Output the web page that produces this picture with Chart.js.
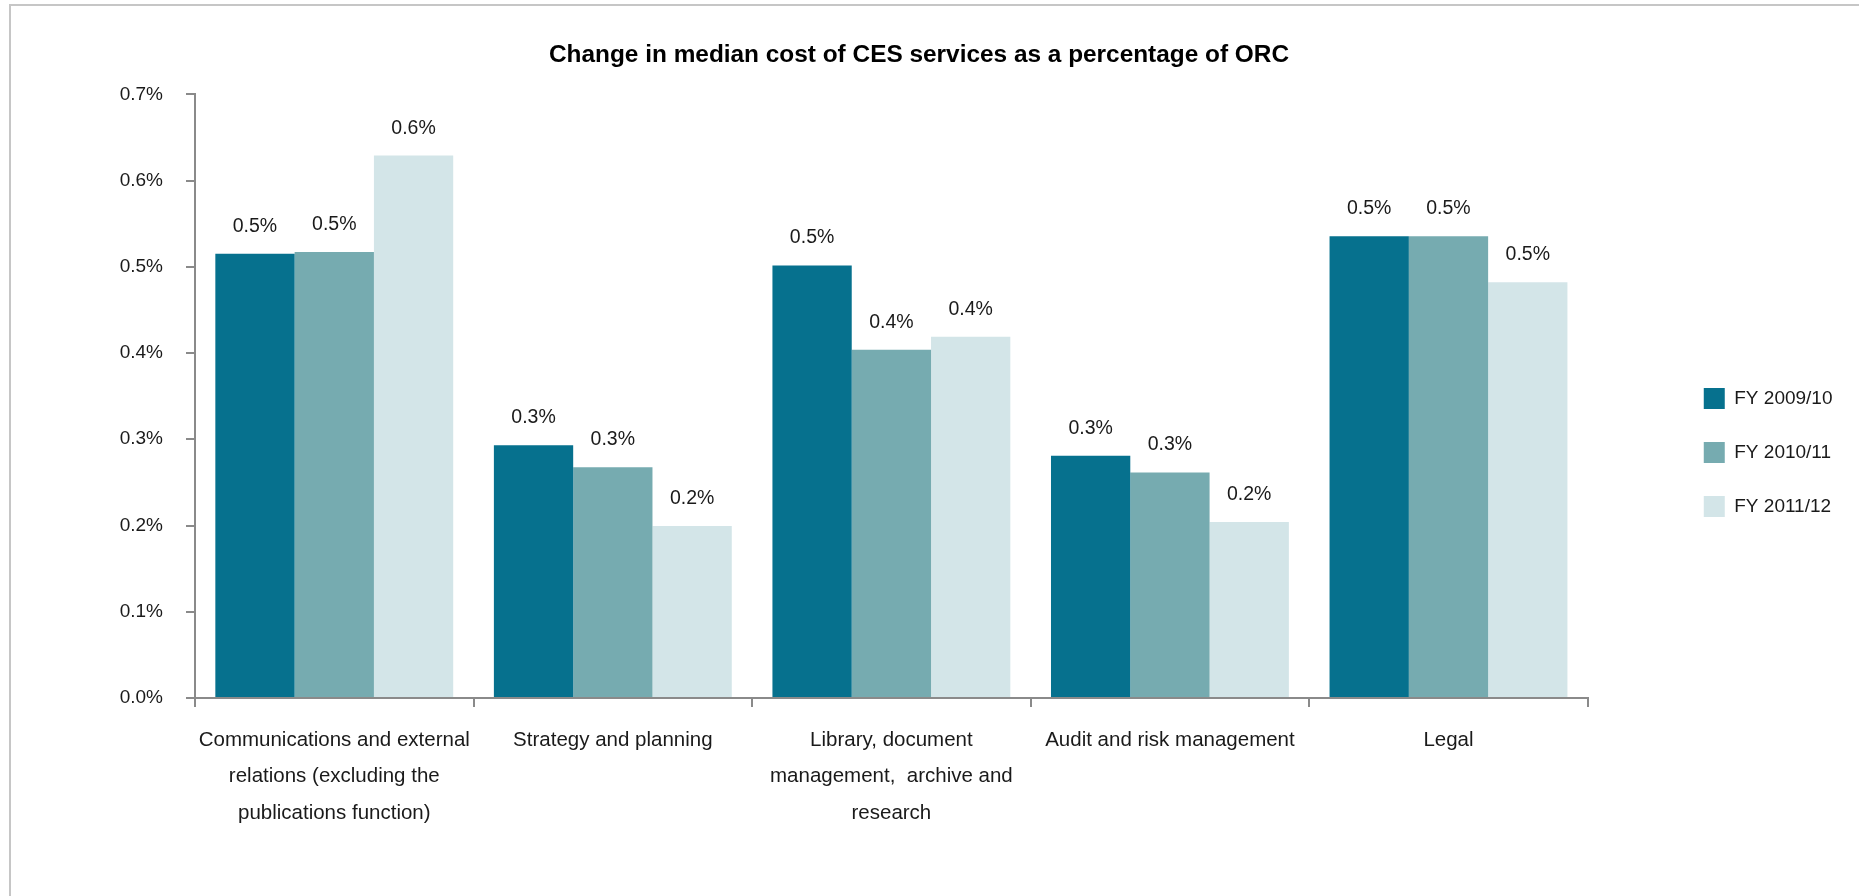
<!DOCTYPE html>
<html>
<head>
<meta charset="utf-8">
<title>Change in median cost of CES services</title>
<script src="https://cdn.jsdelivr.net/npm/chart.js@4.4.1/dist/chart.umd.min.js"></script>
<style>
    html, body { margin: 0; padding: 0; background: #fff; overflow: hidden; }
    #frame {
        position: absolute; left: 9px; top: 4px; width: 2000px; height: 1000px;
        border-left: 2px solid #c6c6c6; border-top: 2px solid #c6c6c6;
    }
    #graficoCostes { position: absolute; left: 0; top: 0; }
</style>
</head>
<body>
<div id="frame"></div>
<canvas id="graficoCostes" width="1859" height="896"></canvas>
<script>
// categorias (etiquetas en varias lineas) y series en %
const categorias = [
    ['Communications and external', 'relations (excluding the', 'publications function)'],
    ['Strategy and planning'],
    ['Library, document', 'management,  archive and', 'research'],
    ['Audit and risk management'],
    ['Legal']
];
const series = ['FY 2009/10', 'FY 2010/11', 'FY 2011/12'];
const fy0910 = [0.515, 0.293, 0.5015, 0.281, 0.5355];
const fy1011 = [0.517, 0.2676, 0.4037, 0.2616, 0.5355];
const fy1112 = [0.629, 0.1995, 0.419, 0.2042, 0.482];
const yTicks = [0, 0.1, 0.2, 0.3, 0.4, 0.5, 0.6, 0.7];

const colores = ['#06718e', '#76abb0', '#d3e5e8'];
const gris = '#8a8a8a';
const texto = '#1a1a1a';
const fuente = '"Liberation Sans", Arial, sans-serif';

const pad = { left: 78.5, right: 99.5, top: 9, bottom: 0 };

// etiquetas de valor encima de cada barra
const etiquetasValor = {
    id: 'etiquetasValor',
    afterDatasetsDraw(chart) {
        const ctx = chart.ctx;
        ctx.save();
        ctx.font = '19.5px ' + fuente;
        ctx.fillStyle = texto;
        ctx.textAlign = 'center';
        ctx.textBaseline = 'alphabetic';
        chart.data.datasets.forEach((ds, i) => {
            chart.getDatasetMeta(i).data.forEach((bar, j) => {
                ctx.fillText(ds.data[j].toFixed(1) + '%', bar.x, bar.y - 22);
            });
        });
        ctx.restore();
    }
};

// mueve la leyenda hacia la derecha, lejos del area del grafico
const leyendaDesplazada = {
    id: 'leyendaDesplazada',
    afterLayout(chart) {
        const lg = chart.legend;
        if (!lg) return;
        lg.left += 83;
        lg.right += 83;
    }
};

const ctx = document.getElementById('graficoCostes').getContext('2d');

window.miGrafico = new Chart(ctx, {
    type: 'bar',
    data: {
        labels: categorias,
        datasets: [
            { label: series[0], data: fy0910, backgroundColor: colores[0] },
            { label: series[1], data: fy1011, backgroundColor: colores[1] },
            { label: series[2], data: fy1112, backgroundColor: colores[2] }
        ]
    },
    options: {
        responsive: false,
        animation: false,
        categoryPercentage: 0.854,
        barPercentage: 1.0,
        layout: { padding: pad },
        scales: {
            x: {
                border: { color: gris, width: 2 },
                grid: { drawOnChartArea: false, color: gris, lineWidth: 2, tickLength: 9, offset: true },
                ticks: {
                    padding: 14.5,
                    color: texto,
                    font: { family: fuente, size: 20.5, lineHeight: 1.79 },
                    maxRotation: 0,
                    autoSkip: false
                },
                afterFit(scale) { scale.height = 896 - 698 - pad.bottom; }
            },
            y: {
                min: 0,
                max: 0.7,
                border: { color: gris, width: 2 },
                grid: { drawOnChartArea: false, color: gris, lineWidth: 2, tickLength: 9 },
                afterBuildTicks(scale) { scale.ticks = yTicks.map(v => ({ value: v })); },
                ticks: {
                    padding: 23,
                    color: texto,
                    font: { family: fuente, size: 19 },
                    callback: (value) => Number(value).toFixed(1) + '%'
                },
                afterFit(scale) { scale.width = 195 - pad.left; }
            }
        },
        plugins: {
            title: {
                display: true,
                text: 'Change in median cost of CES services as a percentage of ORC',
                color: '#000',
                font: { family: fuente, size: 24.4, weight: 'bold' },
                padding: { top: 31.8, bottom: 24.2 }
            },
            legend: {
                position: 'right',
                labels: {
                    boxWidth: 21,
                    boxHeight: 21,
                    padding: 33,
                    color: texto,
                    font: { family: fuente, size: 19 }
                }
            },
            tooltip: { enabled: false }
        }
    },
    plugins: [etiquetasValor, leyendaDesplazada]
});
</script>
</body>
</html>
